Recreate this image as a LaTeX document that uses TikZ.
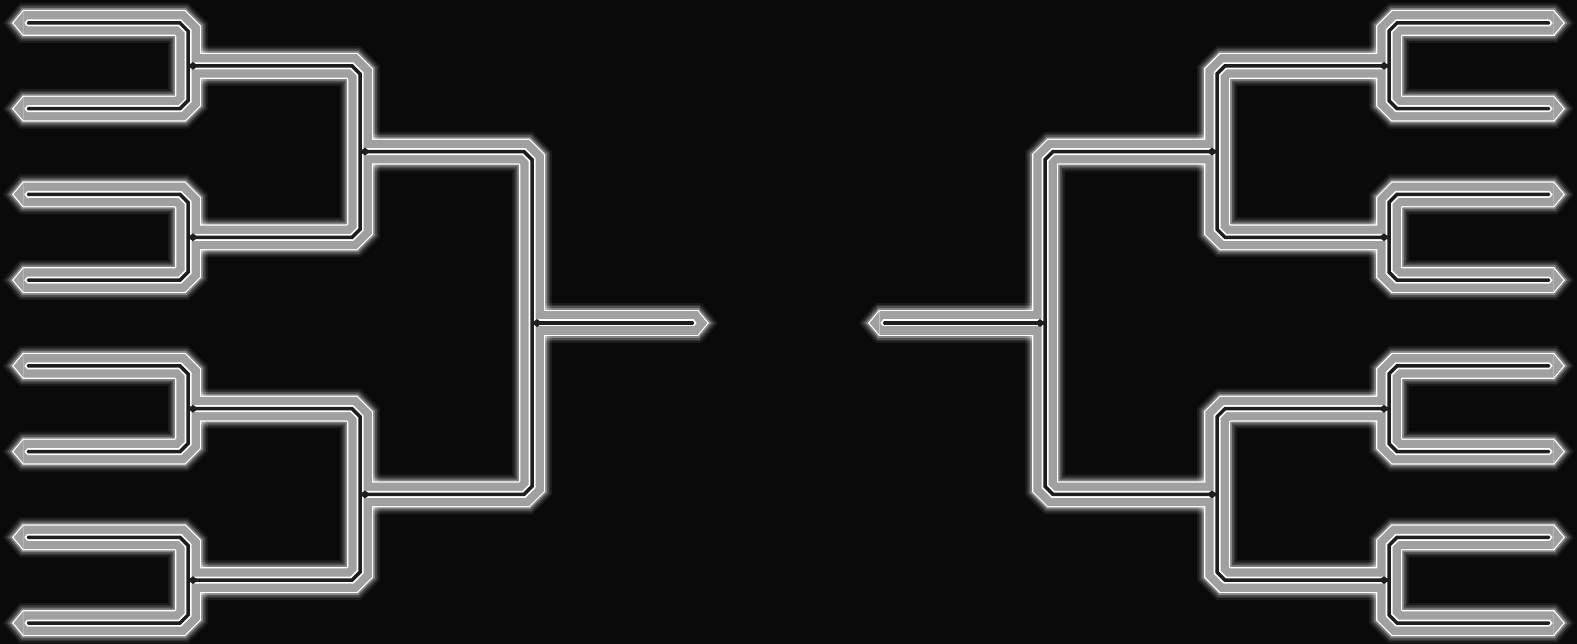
\documentclass[tikz,border=0pt]{standalone}
\usetikzlibrary{arrows.meta}
\definecolor{bg}{RGB}{10,10,10}
\definecolor{tubegray}{RGB}{160,160,160}
\definecolor{tubedark}{RGB}{30,30,30}
% one layer of every tube of the bracket: #1 width, #2 colour, #3 opacity
\newcommand\tubelayer[3]{%
  \pgfmathsetmacro\sh{0.65*(26-#1)}%
  \foreach \side in {0,1}{%
    \begin{scope}[shift={(\side*1577,0)}, xscale={1-2*\side},
        lay/.style={line width=#1pt, draw=#2, opacity=#3, line join=miter}]
      % first round
      \foreach \k in {0,...,3}{%
        \pgfmathsetmacro\ya{23+171.428*\k}%
        \pgfmathsetmacro\yb{\ya+85.714}%
        \draw[lay, {Triangle[length=0pt 0.42,width=0pt 1,line width=0pt]}-{Triangle[length=0pt 0.42,width=0pt 1,line width=0pt]},
              shorten <=\sh pt, shorten >=\sh pt]
          (12,\ya) -- (180,\ya) -- (188,\ya+8) -- (188,\yb-8) -- (180,\yb) -- (12,\yb);
      }
      % second round
      \foreach \k in {0,1}{%
        \pgfmathsetmacro\ya{65.857+342.857*\k}%
        \pgfmathsetmacro\yb{\ya+171.428}%
        \draw[lay] (188,\ya) -- (352,\ya) -- (360,\ya+8) -- (360,\yb-8) -- (352,\yb) -- (188,\yb);
      }
      % semi final
      \draw[lay] (360,151.57) -- (524,151.57) -- (532,159.57) -- (532,486.43) -- (524,494.43) -- (360,494.43);
      % final
      \draw[lay, -{Triangle[length=0pt 0.42,width=0pt 1,line width=0pt]}, shorten >=\sh pt] (532,323) -- (709,323);
    \end{scope}}%
}
\begin{document}
\begin{tikzpicture}[x=1pt,y=-1pt]
  \fill[bg] (0,0) rectangle (1577,644);
  \useasboundingbox (0,0) rectangle (1577,644);
  % glow
  \tubelayer{40}{white}{0.07}
  \tubelayer{36}{white}{0.10}
  \tubelayer{33}{white}{0.15}
  \tubelayer{29.5}{white}{0.3}
  % tube body
  \tubelayer{26}{white}{1}
  \tubelayer{23.5}{tubegray}{1}
  \tubelayer{7}{white}{1}
  \tubelayer{3.5}{tubedark}{1}
  % dark spots where the tubes meet
  \foreach \side in {0,1}{
    \begin{scope}[shift={(\side*1577,0)}, xscale={1-2*\side}]
      \foreach \x/\y in {193/65.857, 193/237.285, 193/408.714, 193/580.142,
                         365/151.57, 365/494.43, 537/323}{
        \fill[tubedark] (\x-5,\y) -- (\x,\y-4) -- (\x+5,\y) -- (\x,\y+4) -- cycle;
      }
    \end{scope}}
\end{tikzpicture}
\end{document}
